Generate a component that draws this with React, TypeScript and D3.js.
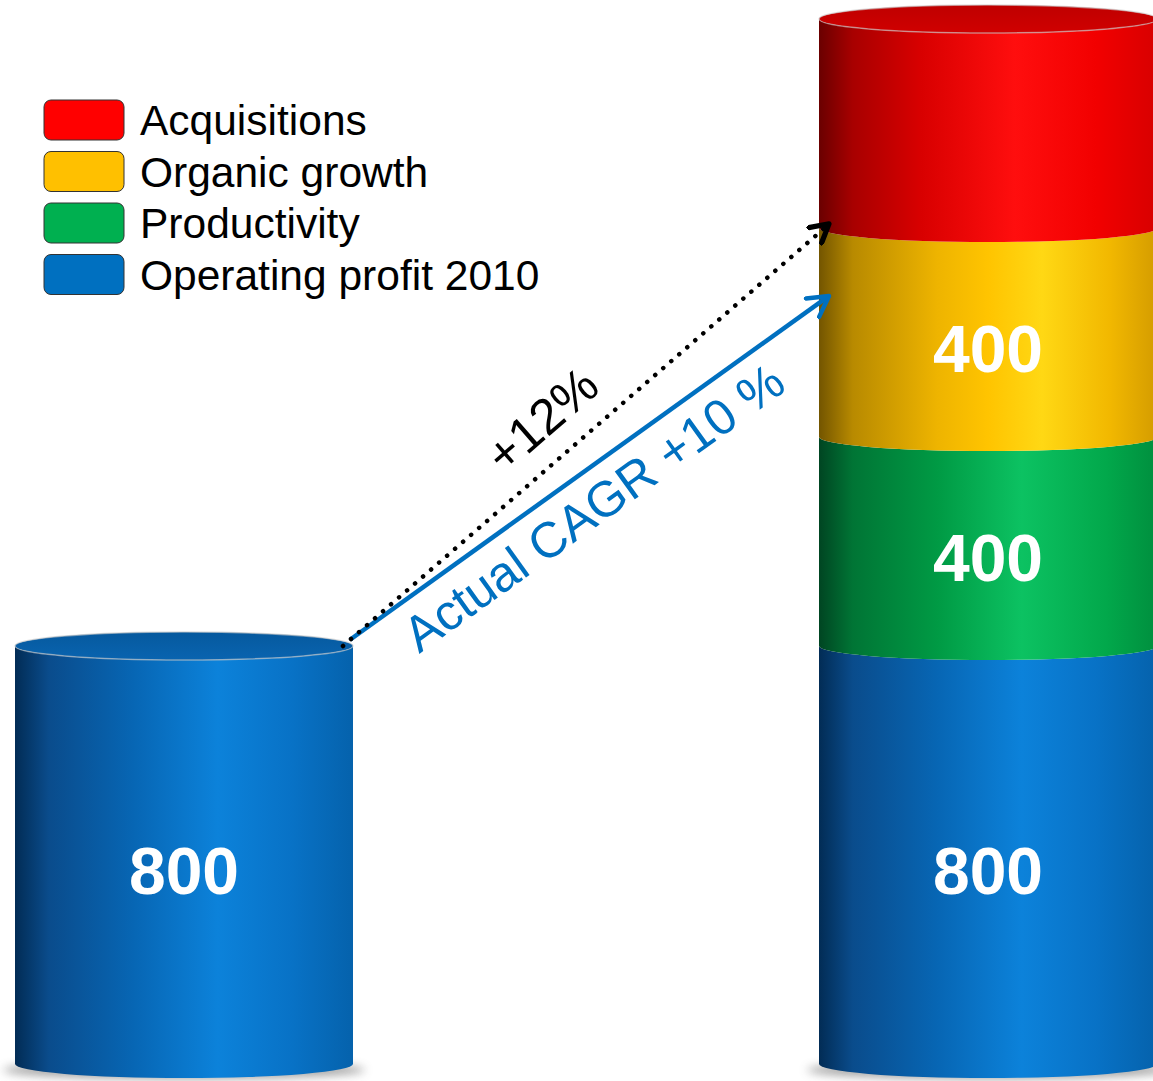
import React from "react";
import * as d3 from "d3";

const categories = ["2010", "Target"];
const seriesNames = ["Operating profit 2010", "Productivity", "Organic growth", "Acquisitions"];
const baseValues = [800, 800];
const productivityValues = [0, 400];
const organicValues = [0, 400];
const acquisitionValues = [0, 400];
const showLabels = [true, true, true, false];
const legendOrder = ["Acquisitions", "Organic growth", "Productivity", "Operating profit 2010"];
const legendColors = ["#ff0000", "#ffc000", "#00b050", "#0070c0"];
const arrowStartValues = [800, 812];
const arrowEndValues = [1608, 1470];
const arrowLabels = ["+12%", "Actual CAGR +10 %"];

const W = 1153;
const H = 1081;
const RY = 14;
const CYL_W = 338;

const gradients: Record<string, [number, string][]> = {
  "Operating profit 2010": [[0, "#022c55"], [0.1, "#0a4c8c"], [0.35, "#0766b4"], [0.6, "#0c82da"], [0.82, "#0872c6"], [1, "#0562ac"]],
  Productivity: [[0, "#004522"], [0.1, "#007535"], [0.35, "#009a44"], [0.6, "#0cc262"], [0.85, "#02a84b"], [1, "#008f3e"]],
  "Organic growth": [[0, "#735500"], [0.1, "#b88a00"], [0.35, "#eeb400"], [0.5, "#ffc400"], [0.66, "#ffd814"], [0.86, "#f2b800"], [1, "#d49c00"]],
  Acquisitions: [[0, "#6a0000"], [0.1, "#a80000"], [0.3, "#d80000"], [0.58, "#ff0e0e"], [0.82, "#f20000"], [1, "#d80000"]],
};
const topFaces: Record<string, [string, string]> = {
  "Operating profit 2010": ["#06599e", "#0964b0"],
  Acquisitions: ["#bf0000", "#d00000"],
};

export default function App() {
  const x = d3.scalePoint<string>().domain(categories).range([184, 988]);
  const y = d3.scaleLinear().domain([0, 2000]).range([1064, 19]);
  const seriesValues = [baseValues, productivityValues, organicValues, acquisitionValues];

  const stacked = categories.map((c, ci) => {
    let acc = 0;
    const segs: { name: string; v0: number; v1: number; label: boolean }[] = [];
    seriesValues.forEach((vals, si) => {
      const v = vals[ci];
      if (v > 0) {
        segs.push({ name: seriesNames[si], v0: acc, v1: acc + v, label: showLabels[si] });
        acc += v;
      }
    });
    return { c, segs };
  });

  const segPath = (cx: number, yTop: number, yBot: number) => {
    const l = cx - CYL_W / 2;
    const r = cx + CYL_W / 2;
    const rx = CYL_W / 2;
    return `M${l},${yTop} L${l},${yBot} A${rx},${RY} 0 0 0 ${r},${yBot} L${r},${yTop} A${rx},${RY} 0 0 1 ${l},${yTop} Z`;
  };

  const leftEdge = (c: string) => (x(c) as number) - CYL_W / 2;
  const rightEdge = (c: string) => (x(c) as number) + CYL_W / 2;

  const arrows = arrowLabels.map((label, i) => {
    const x1 = rightEdge(categories[0]) - (i === 0 ? 10 : 3);
    const y1 = y(arrowStartValues[i]);
    const x2 = leftEdge(categories[1]) + 10;
    const y2 = y(arrowEndValues[i]);
    const ang = (Math.atan2(y2 - y1, x2 - x1) * 180) / Math.PI;
    return { label, x1, y1, x2, y2, ang };
  });

  return (
    <svg width={W} height={H} style={{ position: "absolute", left: 0, top: 0, background: "#fff" }}
      fontFamily="'Liberation Sans', Arial, sans-serif">
      <defs>
        {Object.entries(gradients).map(([name, stops], i) => (
          <linearGradient key={name} id={`g${i}`} x1="0" x2="1" y1="0" y2="0">
            {stops.map(([o, col]) => (
              <stop key={o} offset={o} stopColor={col} />
            ))}
          </linearGradient>
        ))}
        {Object.entries(topFaces).map(([name, [a, b]], i) => (
          <linearGradient key={name} id={`t${i}`} x1="0" x2="0" y1="0" y2="1">
            <stop offset="0" stopColor={a} />
            <stop offset="1" stopColor={b} />
          </linearGradient>
        ))}
        <filter id="blur" x="-20%" y="-200%" width="140%" height="500%">
          <feGaussianBlur stdDeviation="5" />
        </filter>
        <marker id="arrBlue" viewBox="0 0 12 12" refX="10" refY="6" markerWidth="6" markerHeight="6"
          markerUnits="strokeWidth" orient="auto">
          <path d="M1,1 L10,6 L1,11" fill="none" stroke="#0070c0" strokeWidth="2" strokeLinecap="round" strokeLinejoin="round" />
        </marker>
        <marker id="arrBlack" viewBox="0 0 12 12" refX="10" refY="6" markerWidth="6" markerHeight="6"
          markerUnits="strokeWidth" orient="auto">
          <path d="M1,1 L10,6 L1,11" fill="none" stroke="#000" strokeWidth="2.6" strokeLinecap="round" strokeLinejoin="round" />
        </marker>
      </defs>

      {stacked.map(({ c, segs }) => {
        const cx = x(c) as number;
        const top = segs[segs.length - 1];
        const topName = top.name;
        const tfIdx = Object.keys(topFaces).indexOf(topName);
        return (
          <g key={c}>
            <ellipse cx={cx} cy={y(0) + 6} rx={CYL_W / 2 + 12} ry={9} fill="#555" opacity={0.55} filter="url(#blur)" />
            {segs.map((s) => {
              const gi = Object.keys(gradients).indexOf(s.name);
              const yTop = y(s.v1);
              const yBot = y(s.v0);
              return (
                <g key={s.name}>
                  <path d={segPath(cx, yTop, yBot)} fill={`url(#g${gi})`} />
                  {s.label && (
                    <text x={cx} y={(yTop + yBot) / 2 + RY + 25} textAnchor="middle" fill="#fff"
                      fontWeight="bold" fontSize={66}>
                      {d3.format("d")(s.v1 - s.v0)}
                    </text>
                  )}
                </g>
              );
            })}
            <ellipse cx={cx} cy={y(top.v1)} rx={CYL_W / 2} ry={RY} fill={`url(#t${tfIdx})`}
              stroke="rgba(200,200,200,0.6)" strokeWidth={1.5} />
          </g>
        );
      })}

      {legendOrder.map((name, i) => (
        <g key={name} transform={`translate(44,${100 + i * 51.5})`}>
          <rect x={0} y={0} width={80} height={40} rx={7} fill={legendColors[i]} stroke="#333" strokeWidth={1} />
          <text x={96} y={35} fontSize={42.5} fill="#000">{name}</text>
        </g>
      ))}

      <line x1={arrows[1].x1} y1={arrows[1].y1} x2={arrows[1].x2} y2={arrows[1].y2} stroke="#0070c0"
        strokeWidth={4.5} markerEnd="url(#arrBlue)" />
      <line x1={arrows[0].x1} y1={arrows[0].y1} x2={arrows[0].x2 - 3} y2={arrows[0].y2 + 3} stroke="#000"
        strokeWidth={4.5} strokeDasharray="0.1 10.5" strokeLinecap="round" />
      <line x1={arrows[0].x2 - 6} y1={arrows[0].y2 + 5} x2={arrows[0].x2} y2={arrows[0].y2} stroke="#000"
        strokeWidth={4} markerEnd="url(#arrBlack)" />

      <g transform={`translate(${arrows[0].x1},${arrows[0].y1}) rotate(${arrows[0].ang})`}>
        <text x={234} y={-23} fontSize={50} fill="#000">{arrows[0].label}</text>
      </g>
      <g transform={`translate(${arrows[1].x1},${arrows[1].y1}) rotate(${arrows[1].ang})`}>
        <text x={48} y={52} fontSize={50} fill="#0070c0">{arrows[1].label}</text>
      </g>
    </svg>
  );
}
